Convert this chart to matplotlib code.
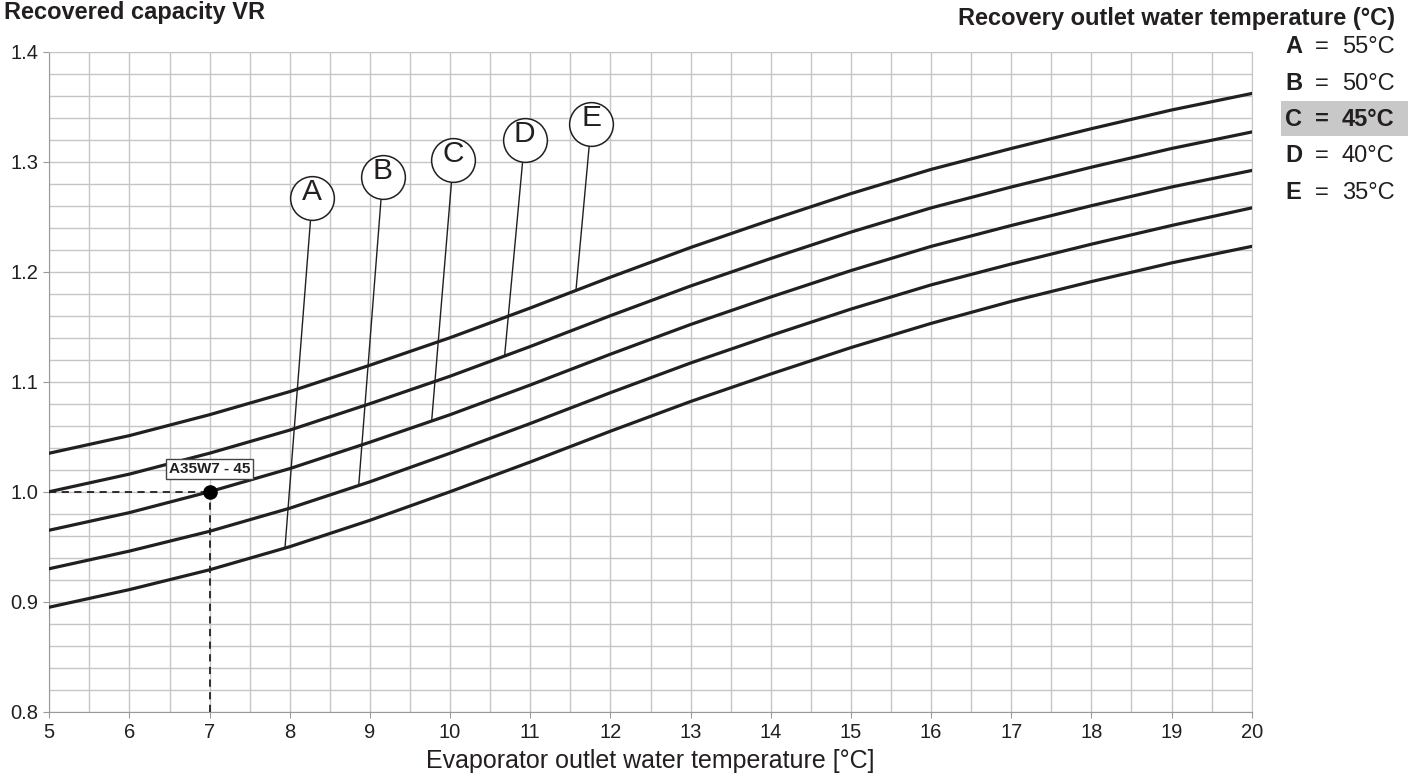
import numpy as np
import matplotlib.pyplot as plt
from matplotlib.patches import Rectangle

plt.rcParams['font.family'] = ['Liberation Sans', 'DejaVu Sans']

# Evaporator outlet water temperature [°C]
evap_temp = [5, 6, 7, 8, 9, 10, 11, 12, 13, 14, 15, 16, 17, 18, 19, 20]

# recovered capacity factor, one curve per recovery outlet temperature
curve_a = [0.895, 0.911, 0.929, 0.950, 0.974, 1.000, 1.027, 1.055, 1.082, 1.107, 1.131, 1.153, 1.173, 1.191, 1.208, 1.223]
curve_b = [0.930, 0.946, 0.964, 0.985, 1.009, 1.035, 1.062, 1.090, 1.117, 1.142, 1.166, 1.188, 1.207, 1.225, 1.242, 1.258]
curve_c = [0.965, 0.981, 1.000, 1.021, 1.045, 1.070, 1.097, 1.125, 1.152, 1.177, 1.201, 1.223, 1.242, 1.260, 1.277, 1.292]
curve_d = [1.000, 1.016, 1.035, 1.056, 1.080, 1.105, 1.132, 1.160, 1.187, 1.212, 1.236, 1.258, 1.277, 1.295, 1.312, 1.327]
curve_e = [1.035, 1.051, 1.070, 1.091, 1.115, 1.140, 1.167, 1.195, 1.222, 1.247, 1.271, 1.293, 1.312, 1.330, 1.347, 1.362]

curve_letters = ["A", "B", "C", "D", "E"]
recovery_temps = ["55°C", "50°C", "45°C", "40°C", "35°C"]

# reference point
point_x = 7
point_y = 1.0
point_label = "A35W7 - 45"

W, H = 1419, 776
INK = "#231f20"

fig = plt.figure(figsize=(W / 100, H / 100), dpi=100)
ax = fig.add_axes([49.3 / W, 1 - 711.7 / H, (1251.7 - 49.3) / W, (711.7 - 51.7) / H])

curves = [curve_a, curve_b, curve_c, curve_d, curve_e]
for c in curves:
    ax.plot(evap_temp, c, color=INK, lw=2.3, solid_joinstyle="round", zorder=3)

# circled letters with leader lines
circle_pos = [(8.28, 1.267), (9.16, 1.286), (10.04, 1.3015), (10.93, 1.320), (11.76, 1.334)]
leader_x = [7.94, 8.86, 9.77, 10.68, 11.57]
for letter, c, (cx, cy), lx in zip(curve_letters, curves, circle_pos, leader_x):
    ly = np.interp(lx, evap_temp, c)
    ax.plot([lx, cx], [ly, cy], color=INK, lw=1.0, zorder=4)
    ax.plot(cx, cy, "o", ms=31.5, mfc="white", mec=INK, mew=1.1, zorder=5)
    ax.annotate(letter, (cx, cy), xytext=(0, -1.5), textcoords="offset points",
                ha="center", va="baseline", fontsize=21.5, color=INK, zorder=6)

# reference point with dashed guides
ax.plot([5, point_x], [point_y, point_y], color=INK, lw=1.3, ls=(0, (4, 3)), zorder=3)
ax.plot([point_x, point_x], [0.8, point_y], color=INK, lw=1.3, ls=(0, (4, 3)), zorder=3)
ax.plot(point_x, point_y, "o", ms=9.5, color="black", zorder=6)
ax.text(point_x, point_y + 0.0205, point_label, ha="center", va="center", fontsize=11,
        weight="bold", color=INK, zorder=7,
        bbox=dict(boxstyle="square,pad=0.2", fc="white", ec="#444444", lw=1))

ax.set_xlim(5, 20)
ax.set_ylim(0.8, 1.4)
ax.set_xticks(range(5, 21))
ax.set_xticks(np.arange(5.5, 20, 1.0), minor=True)
ax.set_yticks([0.8, 0.9, 1.0, 1.1, 1.2, 1.3, 1.4])
ax.set_yticklabels(["0.8", "0.9", "1.0", "1.1", "1.2", "1.3", "1.4"])
ax.set_yticks(np.arange(0.82, 1.4, 0.02), minor=True)
ax.grid(which="both", color="#c6c6c6", lw=1.0, zorder=0)
ax.tick_params(which="major", length=4, color="#999999", labelsize=14.5, labelcolor=INK, pad=4)
ax.tick_params(which="minor", length=0)
for s in ["left", "bottom"]:
    ax.spines[s].set_color("#999999")
for s in ["top", "right"]:
    ax.spines[s].set_color("#c6c6c6")
ax.set_axisbelow(True)

ax.set_xlabel("Evaporator outlet water temperature [°C]", fontsize=18, color=INK, labelpad=5)

# titles
fig.text(4 / W, 1 - 19 / H, "Recovered capacity VR", fontsize=17, weight="bold", color=INK,
         ha="left", va="baseline")
fig.text(1395 / W, 1 - 25 / H, "Recovery outlet water temperature (°C)", fontsize=17,
         weight="bold", color=INK, ha="right", va="baseline")

# legend on the right
row_y = [53, 90, 126, 162, 199]
fig.add_artist(Rectangle((1281 / W, 1 - 136 / H), 127 / W, 35 / H, transform=fig.transFigure,
                         fc="#c8c8c8", ec="none", zorder=0))
for letter, temp, y in zip(curve_letters, recovery_temps, row_y):
    wt = "bold" if letter == "C" else "normal"
    fig.text(1285 / W, 1 - y / H, letter, fontsize=17, weight="bold", color=INK, va="baseline")
    fig.text(1322 / W, 1 - y / H, "=", fontsize=17, weight=wt, color=INK, va="baseline", ha="center")
    fig.text(1342 / W, 1 - y / H, temp, fontsize=17, weight=wt, color=INK, va="baseline")

fig.savefig("out.png", dpi=100)
